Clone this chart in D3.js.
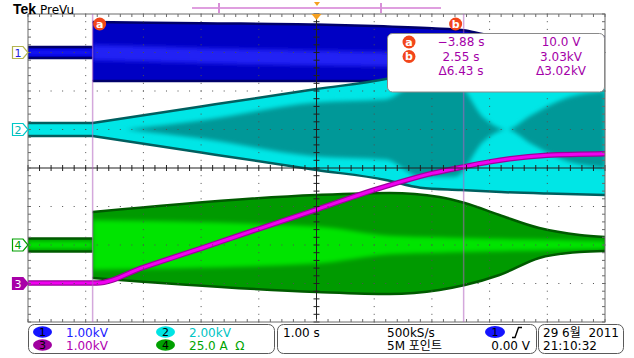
<!DOCTYPE html>
<html>
<head>
<meta charset="utf-8">
<script src="https://cdn.jsdelivr.net/npm/d3@7"></script>
<style>
body { margin: 0; background: #fff; }
text { font-family: "DejaVu Sans", "Noto Sans CJK KR", sans-serif; }
</style>
</head>
<body>
<script>
// horizontal: 1.00 s/div over 10 divisions, trigger in the middle
let timeDomain = [-5, 5]
let divDomain = [-4, 4]

// channel settings: offset in divisions, units per division
let chNames = ["1", "2", "3", "4"]
let chPosition = [3, 1, -3, -2]
let chPerDiv = [1, 2, 1, 25]
let chScaleLabels = ["1.00kV", "2.00kV", "1.00kV", "25.0 A  \u03a9"]

// cursors and readout
let cursorTimes = [-3.88, 2.55]
let cursorNames = ["a", "b"]
let readoutTime = ["\u22123.88 s", "2.55 s", "\u03946.43 s"]
let readoutValue = ["10.0 V", "3.03kV", "\u03943.02kV"]

// time span before cursor a (quiet bands)
let idleTimes = [-5, -3.88]

// ch1 envelope (kV)
let ch1IdleHalf = 0.14
let ch1Time  = [-3.88, -2, 0, 1, 2, 2.55, 3, 4, 5]
let ch1Upper = [0.79, 0.76, 0.73, 0.69, 0.63, 0.58, 0.45, 0.42, 0.40]
let ch1Lower = [-0.74, -0.74, -0.74, -0.74, -0.74, -0.74, -0.72, -0.70, -0.70]
let ch1BandHi = [0.2, 0.12, 0.05, 0.02, 0.0, 0.0, 0.0, 0.0, 0.0]
let ch1BandLo = [-0.2, -0.28, -0.34, -0.36, -0.38, -0.38, -0.38, -0.38, -0.38]

// ch2 envelope (kV), symmetric
let ch2IdleHalf = 0.34
let ch2Time = [-3.88, -2, 0, 1.2, 1.8, 2.5, 3.2, 4, 5]
let ch2Half = [0.34, 1.2, 2.1, 2.62, 3.02, 3.14, 3.25, 3.33, 3.4]
let ch2CoreTime = [-3.3, -2, 0, 1.2, 1.8, 2.4, 2.9, 3.3, 3.7, 4.3, 5]
let ch2CoreHalf = [0, 0.47, 1.4, 1.56, 2.45, 2.45, 0.6, 0, 0.7, 1.6, 2.0]

// ch3 trace (kV)
let ch3Time = [-5, -3.81, -3, -2, -1, 0, 1, 2, 2.55, 3, 4, 5]
let ch3Value = [0.01, 0.01, 0.42, 0.915, 1.42, 1.92, 2.43, 2.86, 3.03, 3.16, 3.33, 3.37]

// ch4 envelope (A)
let ch4IdleHalf = 4.2
let ch4Time  = [-3.88, 0, 1.27, 2.13, 2.57, 3.17, 3.86, 4.56, 5]
let ch4Upper = [21.4, 32.5, 33.8, 31.2, 27.3, 19.5, 11.0, 6.5, 5.2]
let ch4Lower = [-21.4, -30.5, -31.8, -29.2, -26.0, -19.5, -8.4, -4.5, -3.9]
let ch4CoreHalf = [16, 12, 6, 5, 4.5, 4, 3.5, 3, 2.5]

// plot box
let margin = {top: 14, right: 29, bottom: 36, left: 28}
let width = 634, height = 358

let svg = d3.select("body").append("svg")
    .attr("width", width)
    .attr("height", height)

let x = d3.scaleLinear().domain(timeDomain).range([margin.left, width - margin.right])
let yDiv = d3.scaleLinear().domain(divDomain).range([height - margin.bottom, margin.top])
let yCh = (c) => (v) => yDiv(chPosition[c] + v / chPerDiv[c])

let defs = svg.append("defs")
defs.append("clipPath").attr("id", "plot-clip")
    .append("rect")
    .attr("x", x(-5)).attr("y", yDiv(4))
    .attr("width", x(5) - x(-5)).attr("height", yDiv(-4) - yDiv(4))
defs.append("filter").attr("id", "soft")
    .attr("x", "-10%").attr("y", "-30%").attr("width", "120%").attr("height", "160%")
    .append("feGaussianBlur").attr("stdDeviation", 2)

let plot = svg.append("g").attr("clip-path", "url(#plot-clip)")

// area between two series on a shared time array
function band(times, hi, lo, yf) {
    return d3.area()
        .x((d) => x(d))
        .y0((d, i) => yf(lo[i]))
        .y1((d, i) => yf(hi[i]))
        .curve(d3.curveMonotoneX)(times)
}
function edge(times, vals, yf) {
    return d3.line()
        .x((d) => x(d))
        .y((d, i) => yf(vals[i]))
        .curve(d3.curveMonotoneX)(times)
}

// draws one envelope channel: body, soft core, dark noisy edges
function drawChannel(id, yf, times, hi, lo, coreTimes, coreHi, coreLo, col) {
    let g = plot.append("g").attr("class", "ch" + id)
    let d = band(times, hi, lo, yf)
    defs.append("clipPath").attr("id", "clip-" + id).append("path").attr("d", d)
    g.append("path").attr("d", d).attr("fill", col.body)
    g.append("g").attr("clip-path", "url(#clip-" + id + ")")
        .append("path")
        .attr("d", band(coreTimes, coreHi, coreLo, yf))
        .attr("fill", col.core)
        .attr("filter", "url(#soft)")
    g.append("path").attr("d", edge(times, hi, yf))
        .attr("fill", "none").attr("stroke", col.edge).attr("stroke-width", 2.5)
    g.append("path").attr("d", edge(times, lo, yf))
        .attr("fill", "none").attr("stroke", col.edge).attr("stroke-width", 2.5)
}

let idleHi = (h) => idleTimes.map(() => h)
let idleLo = (h) => idleTimes.map(() => -h)
let neg = (arr) => arr.map((v) => -v)

// ch1 blue
let blue = {body: "#0000c4", core: "#2424f4", edge: "#00006a"}
drawChannel("1a", yCh(0), idleTimes, idleHi(ch1IdleHalf), idleLo(ch1IdleHalf),
    idleTimes, idleHi(0.05), idleLo(0.05), {body: "#0000d8", core: "#1a1aff", edge: "#00006a"})
drawChannel("1b", yCh(0), ch1Time, ch1Upper, ch1Lower, ch1Time, ch1BandHi, ch1BandLo, blue)

// ch4 green
let green = {body: "#009a00", core: "#00e400", edge: "#005a00"}
drawChannel("4a", yCh(3), idleTimes, idleHi(ch4IdleHalf), idleLo(ch4IdleHalf),
    idleTimes, idleHi(2.5), idleLo(2.5), green)
drawChannel("4b", yCh(3), ch4Time, ch4Upper, ch4Lower, ch4Time, ch4CoreHalf, neg(ch4CoreHalf), green)

// ch2 cyan: bright near the edges, teal in the core
let cyan = {body: "#00e6e6", core: "#009898", edge: "#005f5f"}
drawChannel("2a", yCh(1), idleTimes, idleHi(ch2IdleHalf), idleLo(ch2IdleHalf),
    idleTimes, idleHi(0), idleLo(0), cyan)
drawChannel("2b", yCh(1), ch2Time, ch2Half, neg(ch2Half), ch2CoreTime, ch2CoreHalf, neg(ch2CoreHalf), cyan)

// ch3 magenta trace
let ch3Line = d3.line()
    .x((d) => x(d))
    .y((d, i) => yCh(2)(ch3Value[i]))
    .curve(d3.curveMonotoneX)
plot.append("path").datum(ch3Time).attr("d", ch3Line)
    .attr("fill", "none").attr("stroke", "#9c009c").attr("stroke-width", 5.5)
plot.append("path").datum(ch3Time).attr("d", ch3Line)
    .attr("fill", "none").attr("stroke", "#f000f0").attr("stroke-width", 3)

// graticule
let grid = svg.append("g").attr("class", "graticule")
let minorT = d3.range(-5, 5.001, 0.2)
let minorD = d3.range(-4, 4.001, 0.2)
d3.range(-4, 5).filter((t) => t !== 0).forEach((t) => {
    grid.selectAll(null).data(minorD).enter().append("rect")
        .attr("x", x(t) - 0.5).attr("y", (d) => yDiv(d) - 0.5)
        .attr("width", 1).attr("height", 1).attr("fill", "#505050")
})
d3.range(-3, 4).filter((d) => d !== 0).forEach((dv) => {
    grid.selectAll(null).data(minorT).enter().append("rect")
        .attr("x", (d) => x(d) - 0.5).attr("y", yDiv(dv) - 0.5)
        .attr("width", 1).attr("height", 1).attr("fill", "#505050")
})
// center cross with minor ticks
grid.append("line").attr("x1", x(-5)).attr("x2", x(5)).attr("y1", yDiv(0)).attr("y2", yDiv(0))
    .attr("stroke", "#202020").attr("stroke-width", 1)
grid.append("line").attr("x1", x(0)).attr("x2", x(0)).attr("y1", yDiv(-4)).attr("y2", yDiv(4))
    .attr("stroke", "#202020").attr("stroke-width", 1)
grid.selectAll(".ctick-x").data(minorT).enter().append("line")
    .attr("x1", (d) => x(d)).attr("x2", (d) => x(d))
    .attr("y1", yDiv(0) - 3).attr("y2", yDiv(0) + 3)
    .attr("stroke", "#202020")
grid.selectAll(".ctick-y").data(minorD).enter().append("line")
    .attr("x1", x(0) - 3).attr("x2", x(0) + 3)
    .attr("y1", (d) => yDiv(d)).attr("y2", (d) => yDiv(d))
    .attr("stroke", "#202020")
// border with inward ticks
grid.append("rect")
    .attr("x", x(-5)).attr("y", yDiv(4))
    .attr("width", x(5) - x(-5)).attr("height", yDiv(-4) - yDiv(4))
    .attr("fill", "none").attr("stroke", "#6a6a6a")
grid.selectAll(".btick-t").data(minorT).enter().append("line")
    .attr("x1", (d) => x(d)).attr("x2", (d) => x(d))
    .attr("y1", yDiv(4)).attr("y2", yDiv(4) + 3).attr("stroke", "#6a6a6a")
grid.selectAll(".btick-b").data(minorT).enter().append("line")
    .attr("x1", (d) => x(d)).attr("x2", (d) => x(d))
    .attr("y1", yDiv(-4)).attr("y2", yDiv(-4) - 3).attr("stroke", "#6a6a6a")
grid.selectAll(".btick-l").data(minorD).enter().append("line")
    .attr("x1", x(-5)).attr("x2", x(-5) + 3)
    .attr("y1", (d) => yDiv(d)).attr("y2", (d) => yDiv(d)).attr("stroke", "#6a6a6a")
grid.selectAll(".btick-r").data(minorD).enter().append("line")
    .attr("x1", x(5)).attr("x2", x(5) - 3)
    .attr("y1", (d) => yDiv(d)).attr("y2", (d) => yDiv(d)).attr("stroke", "#6a6a6a")

// cursors
svg.selectAll(".cursor").data(cursorTimes).enter().append("line")
    .attr("class", "cursor")
    .attr("x1", (d) => x(d)).attr("x2", (d) => x(d))
    .attr("y1", yDiv(4)).attr("y2", yDiv(-4))
    .attr("stroke", "#b060c0").attr("stroke-opacity", 0.55).attr("stroke-width", 1.5)

let orange = "#f2461a"
function cursorBadge(g, cx, cy, name) {
    g.append("circle").attr("cx", cx).attr("cy", cy).attr("r", 6.5).attr("fill", orange)
    g.append("text").attr("x", cx).attr("y", cy + 3.8)
        .attr("text-anchor", "middle").attr("fill", "#fff")
        .style("font-size", "11px").style("font-weight", "bold").text(name)
}
cursorBadge(svg, x(cursorTimes[0]) + 7, 24, cursorNames[0])
cursorBadge(svg, x(cursorTimes[1]) - 8, 24, cursorNames[1])

// trigger position marker
svg.append("path")
    .attr("d", `M${x(0) - 5},${yDiv(4)} L${x(0) + 5},${yDiv(4)} L${x(0)},${yDiv(4) + 6} Z`)
    .attr("fill", "#f5a020")

// record view bar at the top
svg.append("line").attr("x1", 192).attr("x2", 441).attr("y1", 8).attr("y2", 8)
    .attr("stroke", "#c040c0").attr("stroke-width", 1.2)
svg.selectAll(".rv-tick").data([219, 381]).enter().append("line")
    .attr("x1", (d) => d).attr("x2", (d) => d).attr("y1", 3).attr("y2", 13)
    .attr("stroke", "#d890d8").attr("stroke-width", 2)
svg.append("path").attr("d", "M314,2 L320,2 L317,6 Z").attr("fill", "#f5a020")

// logo
svg.append("text").attr("x", 13).attr("y", 14)
    .style("font-family", "'Liberation Sans', Arial, sans-serif")
    .style("font-size", "14px").style("font-weight", "bold").text("Tek")
svg.append("text").attr("x", 40).attr("y", 14)
    .style("font-size", "12px").text("PreVu")

// channel ground markers on the left
let markerStroke = ["#b4b450", "#00c8c8", "#a800a8", "#00a000"]
let markerFill = ["#fff", "#fff", "#a800a8", "#fff"]
let markerText = ["#2020e0", "#00b4b4", "#fff", "#00a000"]
chNames.forEach((n, i) => {
    let yy = yDiv(chPosition[i])
    svg.append("path")
        .attr("d", `M12.5,${yy - 6} H23 L28,${yy} L23,${yy + 6} H12.5 Z`)
        .attr("fill", markerFill[i]).attr("stroke", markerStroke[i]).attr("stroke-width", 1.2)
    svg.append("text").attr("x", 18).attr("y", yy + 4)
        .attr("text-anchor", "middle").attr("fill", markerText[i])
        .style("font-size", "11px").text(n)
})

// cursor readout box
let ro = svg.append("g").attr("class", "readout")
ro.append("rect").attr("x", 387.5).attr("y", 33.5).attr("width", 217).attr("height", 58.5)
    .attr("rx", 5).attr("fill", "#fff").attr("stroke", "#8a8a8a")
let rowY = [46, 60.5, 75]
cursorNames.forEach((n, i) => cursorBadge(ro, 409, rowY[i] - 4, n))
ro.selectAll(".rt").data(readoutTime).enter().append("text")
    .attr("x", 461).attr("y", (d, i) => rowY[i])
    .attr("text-anchor", "middle").attr("fill", "#a400a8")
    .style("font-size", "12px").text((d) => d)
ro.selectAll(".rv").data(readoutValue).enter().append("text")
    .attr("x", 561).attr("y", (d, i) => rowY[i])
    .attr("text-anchor", "middle").attr("fill", "#a400a8")
    .style("font-size", "12px").text((d) => d)

// status bar
let status = svg.append("g").attr("class", "status")
let boxes = [[28.5, 246], [277.5, 259], [538.5, 85]]
boxes.forEach((b) => {
    status.append("rect").attr("x", b[0]).attr("y", 324.5).attr("width", b[1]).attr("height", 29)
        .attr("rx", 6).attr("fill", "#fff").attr("stroke", "#5a5a5a")
})
let badgeFill = ["#1414ff", "#00e4e4", "#a000a0", "#00a000"]
let labelFill = ["#2020ff", "#00c4c4", "#b000b0", "#00a400"]
let badgeX = [42.5, 42.5, 165.5, 165.5]
let badgeRow = [0, 1, 0, 1]
let badgeOrder = [0, 2, 1, 3] // ch1, ch3 left column; ch2, ch4 right
badgeOrder.forEach((c, k) => {
    let cy = badgeRow[k] ? 345 : 332
    status.append("ellipse").attr("cx", badgeX[k]).attr("cy", cy)
        .attr("rx", 9.5).attr("ry", 5.8).attr("fill", badgeFill[c])
    status.append("text").attr("x", badgeX[k]).attr("y", cy + 4)
        .attr("text-anchor", "middle").style("font-size", "11px").text(chNames[c])
    status.append("text").attr("x", badgeX[k] + 23.5).attr("y", cy + 5)
        .attr("fill", labelFill[c]).style("font-size", "12px").style("white-space", "pre")
        .text(chScaleLabels[c])
})
let statusText = [
    {t: "1.00 s", x: 283, y: 337, a: "start"},
    {t: "500kS/s", x: 387, y: 337, a: "start"},
    {t: "5M 포인트", x: 387, y: 350, a: "start"},
    {t: "0.00 V", x: 530, y: 350, a: "end"},
    {t: "29 6월  2011", x: 543, y: 337, a: "start"},
    {t: "21:10:32", x: 543, y: 350, a: "start"}
]
status.selectAll(".st").data(statusText).enter().append("text")
    .attr("x", (d) => d.x).attr("y", (d) => d.y).attr("text-anchor", (d) => d.a)
    .style("font-size", "12px").style("white-space", "pre").text((d) => d.t)
// trigger source and slope
status.append("ellipse").attr("cx", 495).attr("cy", 332).attr("rx", 10).attr("ry", 6).attr("fill", "#1414ff")
status.append("text").attr("x", 495).attr("y", 336).attr("text-anchor", "middle")
    .style("font-size", "11px").text("1")
status.append("path").attr("d", "M512,337.5 H515 L518.5,327.5 H522")
    .attr("fill", "none").attr("stroke", "#000").attr("stroke-width", 1.4)
</script>
</body>
</html>
